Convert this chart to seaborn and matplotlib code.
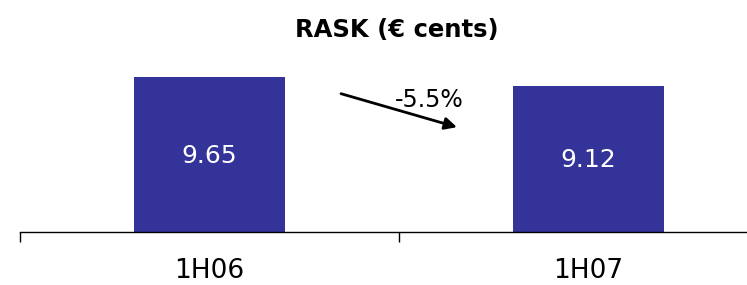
import matplotlib
matplotlib.use("Agg")
import matplotlib.pyplot as plt
import seaborn as sns
import pandas as pd

# Data
periods = ["1H06", "1H07"]
rask = [9.65, 9.12]

df = pd.DataFrame({"period": periods, "rask": rask})
change = (rask[1] / rask[0] - 1) * 100

sns.set_theme(style="white")
plt.rcParams['font.family'] = ['DejaVu Sans']
plt.rcParams['text.color'] = 'black'

fig = plt.figure(figsize=(7.47, 2.85), dpi=100)
ax = fig.add_axes([20 / 747, 53 / 285, 758 / 747, 160.6 / 285])

sns.barplot(data=df, x="period", y="rask", color="#333399", saturation=1,
            width=0.4, linewidth=0, ax=ax)

for i, v in enumerate(rask):
    ax.text(i, v / 2 - 0.1, f"{v:.2f}", ha="center", va="center",
            color="white", fontsize=18)

ax.set_xlim(-0.5, 1.5)
ax.set_ylim(0, 10)
ax.set_xticks([-0.5, 0.5, 1.5], minor=False)
ax.set_xticklabels([])
for i, p in enumerate(periods):
    ax.text(i, -2.4, p, ha="center", va="center", fontsize=19, color="black")

ax.tick_params(axis="x", direction="out", length=7, width=1, color="black", bottom=True)
ax.set_yticks([])
ax.set_xlabel("")
ax.set_ylabel("")
for s in ["top", "right", "left"]:
    ax.spines[s].set_visible(False)
ax.spines["bottom"].set_color("black")
ax.spines["bottom"].set_linewidth(1)

# change arrow
ax.annotate("", xy=(0.66, rask[1] - 2.64), xytext=(0.34, rask[0] - 0.99),
            arrowprops=dict(arrowstyle="-|>,head_length=0.6,head_width=0.3",
                            color="black", lw=2))
ax.text(0.58, 8.2, f"{change:.1f}%", ha="center", va="center", fontsize=17,
        color="black")

fig.text(397 / 747, 1 - 30 / 285, "RASK (€ cents)", ha="center", va="center",
         fontsize=17.5, fontweight="bold", color="black")

fig.savefig("out.png", dpi=100)
